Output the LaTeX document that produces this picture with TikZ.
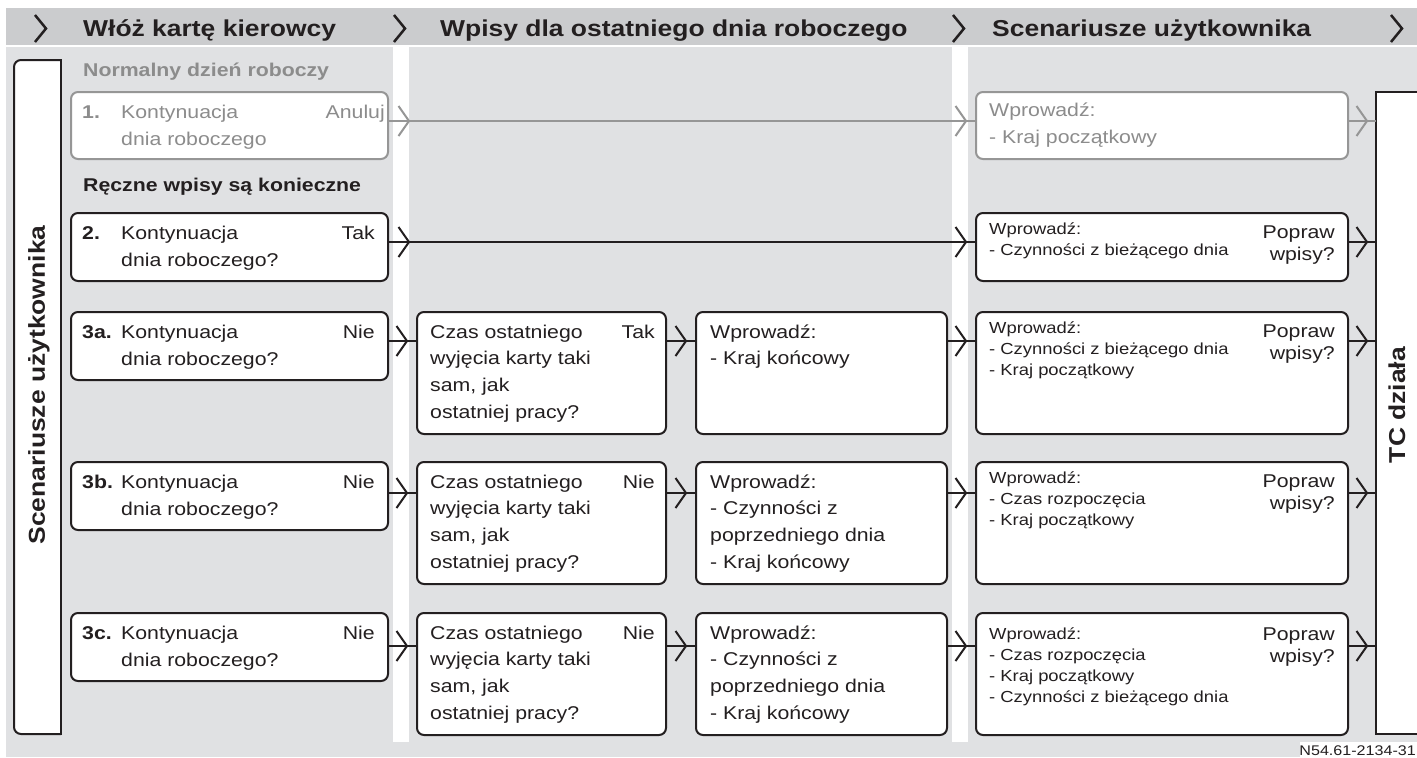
\documentclass[tikz,border=0pt]{standalone}
\usepackage{fontspec}
\setmainfont{Liberation Sans}[FakeStretch=1.15]
\usetikzlibrary{decorations.markings}
\definecolor{hdrgray}{RGB}{203,204,206}
\definecolor{bodygray}{RGB}{224,225,227}
\definecolor{ink}{RGB}{35,31,32}
\definecolor{dim}{RGB}{140,140,140}
\definecolor{dimline}{RGB}{150,150,150}
\newcommand\fhdr{\fontsize{23}{27}\selectfont\bfseries}
\newcommand\fbody{\fontsize{18.5}{27}\selectfont}
\newcommand\fmid{\fontsize{18.5}{26.7}\selectfont}
\newcommand\fpop{\fontsize{18.5}{22}\selectfont}
\newcommand\fsmall{\fontsize{16}{21}\selectfont}
\newcommand\ffoot{\fontsize{14}{16}\selectfont}
\newcommand\lft[2]{\parbox[t]{#1}{#2}}
\newcommand\rgt[2]{\parbox[t]{#1}{\raggedleft #2}}
\tikzset{
  box/.style={draw=ink, fill=white, line width=2pt, rounded corners=7pt, inner sep=0pt, anchor=north west},
  gbox/.style={box, draw=dimline},
  txt/.style={anchor=base west, inner sep=0pt, font=\fbody, text=ink},
  rtxt/.style={anchor=base east, inner sep=0pt, font=\fbody, text=ink},
  chevron/.style={line width=2pt, line join=miter},
  conn/.style={line width=2pt, draw=#1,
    decoration={markings, mark=at position -9pt with {\draw[chevron, draw=#1] (-10.5pt,15pt) -- (0pt,0pt) -- (-10.5pt,-15pt);}},
    postaction={decorate}},
  longconn/.style={line width=2pt, draw=#1,
    decoration={markings,
      mark=at position 20pt with {\draw[chevron, draw=#1] (-10.5pt,15pt) -- (0pt,0pt) -- (-10.5pt,-15pt);},
      mark=at position -9pt with {\draw[chevron, draw=#1] (-10.5pt,15pt) -- (0pt,0pt) -- (-10.5pt,-15pt);}},
    postaction={decorate}},
  hchev/.style={draw=ink, line width=2.5pt, line join=miter}
}
\begin{document}
\begin{tikzpicture}[x=1pt,y=-1pt]
\useasboundingbox (0,0) rectangle (1417,758);
% backgrounds
\fill[hdrgray] (6,8) rectangle (1417,45);
\fill[bodygray] (6,47) rectangle (1417,757);
\fill[white] (393,47) rectangle (409,742);
\fill[white] (952,47) rectangle (968,742);
\fill[white] (1300,742) rectangle (1417,758);
% header
\draw[hchev] (35,15) -- (46,28.5) -- (35,42);
\draw[hchev] (394,15) -- (405,28.5) -- (394,42);
\draw[hchev] (953,15) -- (964,28.5) -- (953,42);
\draw[hchev] (1391,15) -- (1402,28.5) -- (1391,42);
\node[anchor=base west, inner sep=0pt, font=\fhdr, text=ink] (h1) at (83,36) {Włóż kartę kierowcy};
\node[anchor=base west, inner sep=0pt, font=\fhdr, text=ink] (h2) at (440,36) {Wpisy dla ostatniego dnia roboczego};
\node[anchor=base west, inner sep=0pt, font=\fhdr, text=ink] (h3) at (992,36) {Scenariusze użytkownika};
% left label box
\draw[ink, line width=2pt, fill=white, rounded corners=7pt] (61,60) -- (14,60) -- (14,734) -- (61,734);
\draw[ink, line width=2pt] (61,59) -- (61,735);
\node[rotate=90, anchor=base, inner sep=0pt, font=\fhdr, text=ink] (lab) at (45,385) {Scenariusze użytkownika};
% TC box
\draw[ink, line width=2pt, fill=white] (1425,92) -- (1376,92) -- (1376,734) -- (1425,734);
\node[anchor=north west, minimum width=45pt, minimum height=642pt, inner sep=0pt] (tc) at (1376,92) {};
\node[rotate=90, anchor=base, inner sep=0pt, font=\fhdr, text=ink] (tclab) at (1405,405) {TC działa};
% section labels
\node[anchor=base west, inner sep=0pt, font=\fbody\bfseries, text=dim] (s1) at (83,76) {Normalny dzień roboczy};
\node[anchor=base west, inner sep=0pt, font=\fbody\bfseries, text=ink] (s2) at (83,191.5) {Ręczne wpisy są konieczne};
% ---- boxes ----
\node[gbox, minimum width=317pt, minimum height=67pt] (b1) at (70,91) {};
\node[gbox, minimum width=372pt, minimum height=67pt] (d1) at (975,91) {};
\foreach \n/\t in {b2/212, b3a/311, b3b/461, b3c/612}
  \node[box, minimum width=317pt, minimum height=68pt] (\n) at (70,\t) {};
\foreach \n/\t in {m3a/311, m3b/461, m3c/612}
  \node[box, minimum width=249pt, minimum height=122pt] (\n) at (416,\t) {};
\foreach \n/\t in {e3a/311, e3b/461, e3c/612}
  \node[box, minimum width=251pt, minimum height=122pt] (\n) at (695,\t) {};
\node[box, minimum width=372pt, minimum height=68pt] (d2) at (975,212) {};
\foreach \n/\t in {d3a/311, d3b/461, d3c/612}
  \node[box, minimum width=372pt, minimum height=122pt] (\n) at (975,\t) {};
% row 1 texts
\node[txt, text=dim, font=\fbody\bfseries] at ([shift={(12,27)}]b1.north west) {1.};
\node[txt, text=dim] at ([shift={(51,27)}]b1.north west) {\lft{220pt}{Kontynuacja\\dnia roboczego}};
\node[rtxt, text=dim] at ([shift={(-4,27)}]b1.north east) {Anuluj};
\node[txt, text=dim] at ([shift={(14,25)}]d1.north west) {\lft{300pt}{Wprowadź:\\- Kraj początkowy}};
% column 1 texts
\foreach \n/\k/\a in {b2/2./Tak, b3a/3a./Nie, b3b/3b./Nie, b3c/3c./Nie}{
  \node[txt, font=\fbody\bfseries] at ([shift={(12,27)}]\n.north west) {\k};
  \node[txt] at ([shift={(51,27)}]\n.north west) {\lft{220pt}{Kontynuacja\\dnia roboczego?}};
  \node[rtxt] at ([shift={(-14,27)}]\n.north east) {\a};
}
% column 2 texts
\foreach \n/\a in {m3a/Tak, m3b/Nie, m3c/Nie}{
  \node[txt, font=\fmid] at ([shift={(14,27)}]\n.north west) {\lft{200pt}{Czas ostatniego\\wyjęcia karty taki\\sam, jak\\ostatniej pracy?}};
  \node[rtxt] at ([shift={(-12,27)}]\n.north east) {\a};
}
% column 3 texts
\node[txt, font=\fmid] at ([shift={(15,27)}]e3a.north west) {\lft{220pt}{Wprowadź:\\- Kraj końcowy}};
\node[txt, font=\fmid] at ([shift={(15,27)}]e3b.north west) {\lft{220pt}{Wprowadź:\\- Czynności z\\poprzedniego dnia\\- Kraj końcowy}};
\node[txt, font=\fmid] at ([shift={(15,27)}]e3c.north west) {\lft{220pt}{Wprowadź:\\- Czynności z\\poprzedniego dnia\\- Kraj końcowy}};
% column 4 texts
\node[txt, font=\fsmall] at ([shift={(14,22)}]d2.north west) {\lft{300pt}{Wprowadź:\\- Czynności z bieżącego dnia}};
\node[txt, font=\fsmall] at ([shift={(14,22)}]d3a.north west) {\lft{300pt}{Wprowadź:\\- Czynności z bieżącego dnia\\- Kraj początkowy}};
\node[txt, font=\fsmall] at ([shift={(14,22)}]d3b.north west) {\lft{300pt}{Wprowadź:\\- Czas rozpoczęcia\\- Kraj początkowy}};
\node[txt, font=\fsmall] at ([shift={(14,27)}]d3c.north west) {\lft{300pt}{Wprowadź:\\- Czas rozpoczęcia\\- Kraj początkowy\\- Czynności z bieżącego dnia}};
\foreach \n/\dy in {d2/26, d3a/26, d3b/26, d3c/28}
  \node[rtxt, font=\fpop] at ([shift={(-14,\dy)}]\n.north east) {\rgt{90pt}{Popraw\\wpisy?}};
% rows
\coordinate (r1) at (0,121);
\coordinate (r2) at (0,242);
\coordinate (r3a) at (0,341);
\coordinate (r3b) at (0,493);
\coordinate (r3c) at (0,646);
% connectors
\draw[longconn=dimline] (b1.east |- r1) -- (d1.west |- r1);
\draw[conn=dimline] (d1.east |- r1) -- (tc.west |- r1);
\draw[longconn=ink] (b2.east |- r2) -- (d2.west |- r2);
\draw[conn=ink] (d2.east |- r2) -- (tc.west |- r2);
\foreach \s in {3a,3b,3c}{
  \draw[conn=ink] (b\s.east |- r\s) -- (m\s.west |- r\s);
  \draw[conn=ink] (m\s.east |- r\s) -- (e\s.west |- r\s);
  \draw[conn=ink] (e\s.east |- r\s) -- (d\s.west |- r\s);
  \draw[conn=ink] (d\s.east |- r\s) -- (tc.west |- r\s);
}
% footer
\node[anchor=base east, inner sep=0pt, font=\ffoot, text=ink] (foot) at (1416,755) {N54.61-2134-31};
\end{tikzpicture}
\end{document}
